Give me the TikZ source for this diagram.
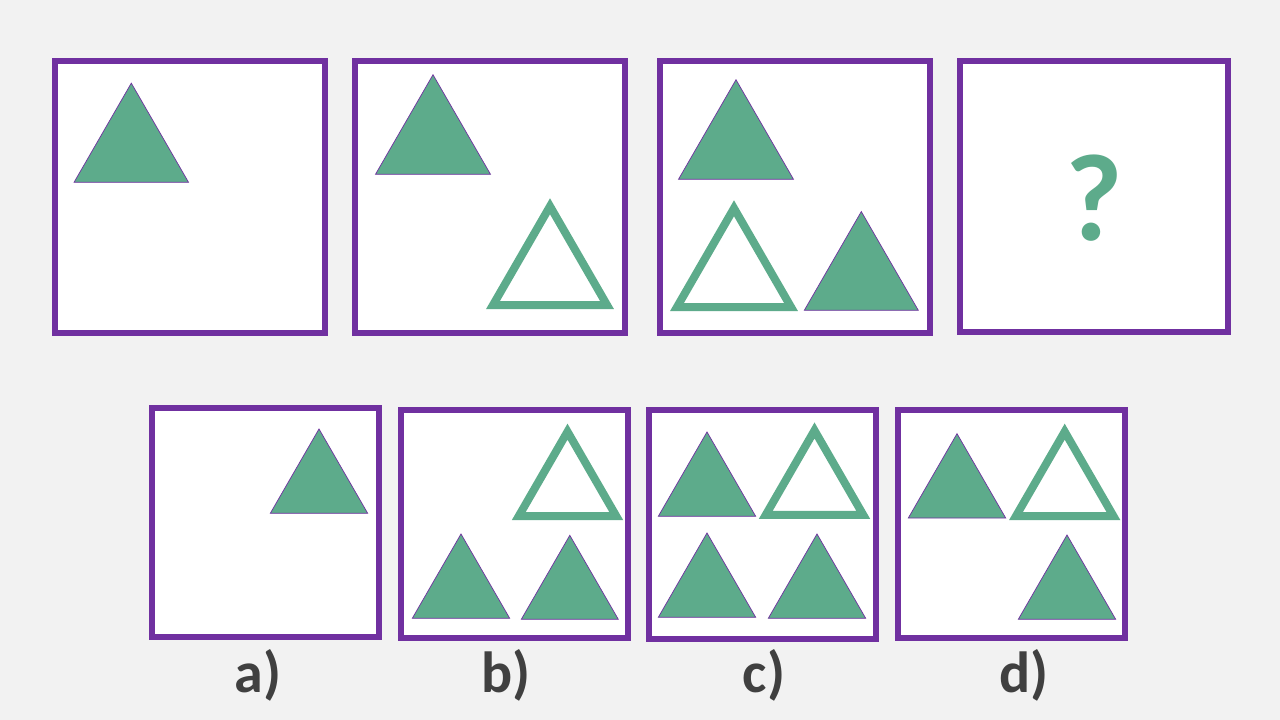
\documentclass[tikz,border=0pt]{standalone}
\usepackage{fontspec}
\setmainfont{Carlito}
\definecolor{bgc}{HTML}{F2F2F2}
\definecolor{purp}{HTML}{7030A0}
\definecolor{grn}{HTML}{5DAB8B}
\definecolor{lbl}{HTML}{404040}
\tikzset{
  panel/.style={draw=purp, line width=6pt, fill=white},
  solidtri/.style={fill=grn, draw=purp, line width=0.7pt, line join=miter},
  hollowtri/.style={draw=grn, line width=8pt, line join=miter, miter limit=10},
  optlabel/.style={anchor=base, inner sep=0pt, text=lbl, font=\fontsize{58}{60}\selectfont\bfseries},
}
\newcommand\filltri[3]{\draw[solidtri] ({#1-#3/2},#2) -- ({#1},{#2-0.866*#3}) -- ({#1+#3/2},#2) -- cycle;}
\newcommand\opentri[3]{\draw[hollowtri] ({#1-#3/2},#2) -- ({#1},{#2-0.866*#3}) -- ({#1+#3/2},#2) -- cycle;}
\begin{document}
\begin{tikzpicture}[x=1pt,y=-1pt]
\fill[bgc] (0,0) rectangle (1280,720);
\useasboundingbox (0,0) rectangle (1280,720);
% top row
\draw[panel] (55,61) rectangle (325,333);
\draw[panel] (355,61) rectangle (625,333);
\draw[panel] (660,61) rectangle (930,333);
\draw[panel] (960,61) rectangle (1228,332);
\filltri{131.3}{182.3}{114.5}
\filltri{433}{174.3}{115}
\opentri{550}{305}{114}
\filltri{736}{179.3}{115}
\opentri{734}{307}{114}
\filltri{861.3}{310.3}{114}
\node (q) [anchor=base, inner sep=0pt, text=grn, font=\fontsize{124}{126}\selectfont\bfseries] at (1094,240.7) {?};
% bottom row
\draw[panel] (152,408) rectangle (378.5,637);
\draw[panel] (401.3,410.3) rectangle (627.7,638.3);
\draw[panel] (649,410) rectangle (876,638.6);
\draw[panel] (898,410.3) rectangle (1124.7,638.3);
% a
\filltri{319}{513.3}{97.4}
% b
\opentri{567.5}{516}{97.4}
\filltri{461}{618.3}{97.4}
\filltri{569.8}{619.3}{97}
% c
\filltri{707}{516.3}{97.4}
\opentri{814.5}{514.8}{97.4}
\filltri{707}{617.3}{97.4}
\filltri{817}{618.3}{97.4}
% d
\filltri{957}{518}{97.4}
\opentri{1064.7}{516}{97.4}
\filltri{1067}{619.3}{97.4}
% labels
\node (la) [optlabel] at (257.7,692.7) {a)};
\node (lb) [optlabel] at (506,692.7) {b)};
\node (lc) [optlabel] at (764,692.7) {c)};
\node (ld) [optlabel] at (1024,692.7) {d)};
\end{tikzpicture}
\end{document}
